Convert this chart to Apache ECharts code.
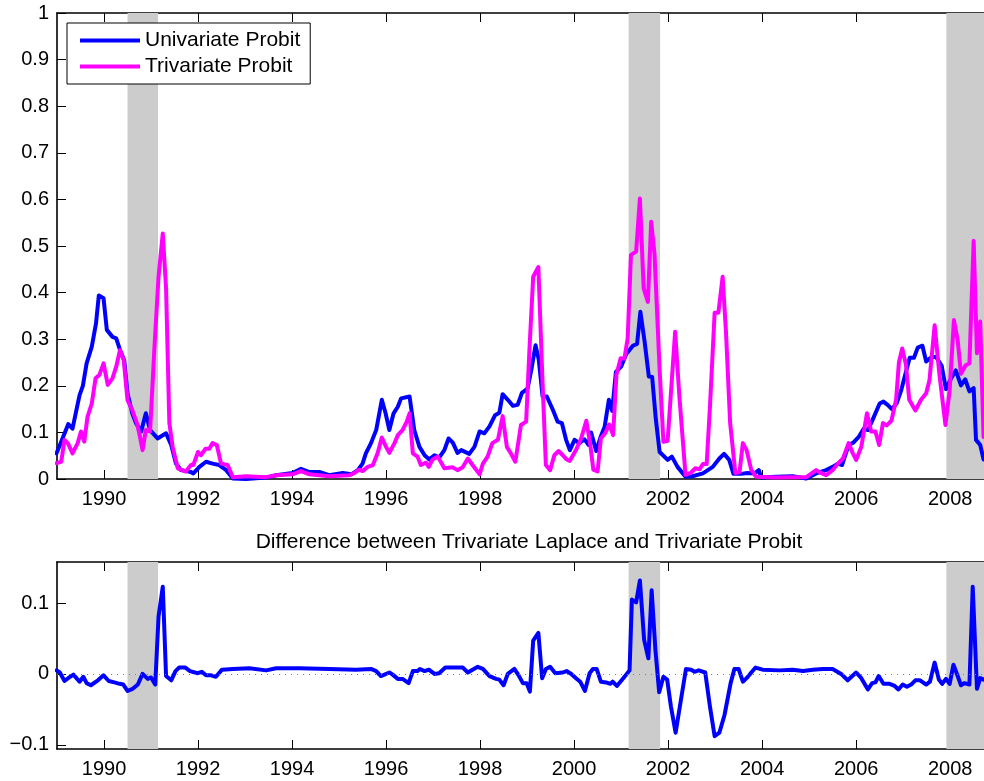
<!DOCTYPE html>
<html>
<head>
<meta charset="utf-8">
<script src="https://cdn.jsdelivr.net/npm/echarts@6/dist/echarts.min.js"></script>
<style>
  html, body { margin: 0; padding: 0; background: #ffffff; }
  #chart { width: 984px; height: 781px; }
</style>
</head>
<body>
<div id="chart"></div>
<script>
// Monthly recession probabilities, [decimal year, probability]
const univariateProbit = [
  [1988.99,0.055],[1989.19,0.105],[1989.24,0.118],[1989.33,0.108],[1989.48,0.18],[1989.55,0.20],
  [1989.63,0.248],[1989.74,0.284],[1989.83,0.334],[1989.89,0.394],[1989.99,0.388],[1990.06,0.32],
  [1990.18,0.305],[1990.26,0.302],[1990.34,0.277],[1990.43,0.255],[1990.50,0.184],[1990.60,0.141],
  [1990.68,0.12],[1990.79,0.102],[1990.89,0.141],[1990.98,0.105],[1991.14,0.087],[1991.32,0.098],
  [1991.43,0.073],[1991.53,0.033],[1991.64,0.019],[1991.85,0.015],[1991.90,0.012],[1992.03,0.026],
  [1992.17,0.037],[1992.31,0.033],[1992.45,0.03],[1992.60,0.019],[1992.74,0.001],[1993.02,0.0],
  [1993.45,0.003],[1993.66,0.008],[1994.01,0.013],[1994.19,0.022],[1994.37,0.015],[1994.58,0.015],
  [1994.79,0.008],[1995.08,0.013],[1995.26,0.01],[1995.40,0.019],[1995.50,0.033],[1995.57,0.055],
  [1995.68,0.077],[1995.79,0.105],[1995.91,0.17],[1995.99,0.141],[1996.07,0.105],[1996.16,0.141],
  [1996.25,0.155],[1996.32,0.173],[1996.50,0.177],[1996.60,0.105],[1996.71,0.069],[1996.82,0.051],
  [1996.92,0.042],[1997.03,0.051],[1997.13,0.046],[1997.24,0.062],[1997.33,0.087],[1997.42,0.078],
  [1997.52,0.056],[1997.60,0.062],[1997.77,0.054],[1997.88,0.069],[1997.99,0.102],[1998.09,0.098],
  [1998.20,0.113],[1998.32,0.137],[1998.41,0.142],[1998.48,0.182],[1998.59,0.17],[1998.70,0.157],
  [1998.80,0.159],[1998.89,0.185],[1999.01,0.194],[1999.09,0.234],[1999.18,0.287],[1999.25,0.255],
  [1999.33,0.177],[1999.42,0.177],[1999.55,0.148],[1999.65,0.123],[1999.74,0.12],[1999.83,0.084],
  [1999.91,0.062],[2000.01,0.084],[2000.11,0.077],[2000.22,0.085],[2000.31,0.073],[2000.36,0.1],
  [2000.47,0.06],[2000.57,0.092],[2000.65,0.112],[2000.74,0.17],[2000.81,0.146],[2000.89,0.23],
  [2001.00,0.241],[2001.11,0.268],[2001.25,0.286],[2001.34,0.29],[2001.41,0.359],[2001.50,0.295],
  [2001.59,0.22],[2001.66,0.219],[2001.74,0.127],[2001.82,0.058],[2001.99,0.041],[2002.08,0.048],
  [2002.20,0.026],[2002.37,0.005],[2002.52,0.006],[2002.74,0.012],[2002.95,0.026],[2003.09,0.044],
  [2003.19,0.054],[2003.30,0.041],[2003.39,0.011],[2003.55,0.011],[2003.69,0.013],[2003.84,0.012],
  [2003.93,0.019],[2003.98,0.003],[2004.30,0.005],[2004.65,0.006],[2004.94,0.001],[2005.15,0.012],
  [2005.36,0.019],[2005.50,0.026],[2005.61,0.033],[2005.70,0.03],[2005.84,0.073],[2005.94,0.078],
  [2006.06,0.091],[2006.16,0.108],[2006.25,0.105],[2006.35,0.127],[2006.50,0.162],[2006.58,0.166],
  [2006.67,0.159],[2006.76,0.15],[2006.86,0.162],[2006.96,0.191],[2007.06,0.23],[2007.14,0.26],
  [2007.23,0.26],[2007.31,0.282],[2007.41,0.286],[2007.49,0.252],[2007.61,0.262],[2007.70,0.262],
  [2007.82,0.243],[2007.91,0.193],[2008.01,0.214],[2008.12,0.233],[2008.23,0.201],[2008.32,0.214],
  [2008.41,0.188],[2008.50,0.195],[2008.55,0.084],[2008.64,0.073],[2008.71,0.042]
];

const trivariateProbit = [
  [1988.99,0.034],[1989.09,0.037],[1989.16,0.084],[1989.23,0.077],[1989.33,0.055],[1989.44,0.077],
  [1989.51,0.102],[1989.58,0.08],[1989.65,0.134],[1989.74,0.162],[1989.82,0.216],[1989.90,0.223],
  [1989.99,0.248],[1990.08,0.202],[1990.18,0.216],[1990.26,0.241],[1990.34,0.277],[1990.42,0.255],
  [1990.50,0.169],[1990.60,0.148],[1990.70,0.12],[1990.75,0.098],[1990.82,0.062],[1990.89,0.105],
  [1990.98,0.102],[1991.07,0.277],[1991.16,0.434],[1991.25,0.527],[1991.32,0.41],[1991.39,0.12],
  [1991.46,0.069],[1991.57,0.023],[1991.74,0.016],[1991.85,0.03],[1991.90,0.03],[1992.00,0.058],
  [1992.06,0.051],[1992.16,0.065],[1992.24,0.065],[1992.31,0.077],[1992.40,0.073],[1992.49,0.033],
  [1992.63,0.03],[1992.74,0.004],[1993.02,0.006],[1993.45,0.004],[1993.66,0.008],[1994.01,0.01],
  [1994.19,0.017],[1994.37,0.01],[1994.79,0.006],[1995.22,0.008],[1995.33,0.013],[1995.43,0.02],
  [1995.50,0.017],[1995.61,0.026],[1995.72,0.03],[1995.82,0.055],[1995.91,0.089],[1996.00,0.069],
  [1996.07,0.056],[1996.18,0.077],[1996.25,0.094],[1996.35,0.105],[1996.44,0.123],[1996.50,0.141],
  [1996.57,0.055],[1996.67,0.048],[1996.74,0.03],[1996.85,0.035],[1996.91,0.026],[1996.99,0.042],
  [1997.10,0.048],[1997.24,0.023],[1997.42,0.025],[1997.52,0.019],[1997.63,0.025],[1997.74,0.044],
  [1997.84,0.03],[1997.99,0.01],[1998.06,0.033],[1998.16,0.048],[1998.26,0.077],[1998.38,0.084],
  [1998.48,0.135],[1998.57,0.069],[1998.66,0.054],[1998.75,0.037],[1998.87,0.116],[1998.98,0.123],
  [1999.05,0.277],[1999.13,0.434],[1999.24,0.455],[1999.33,0.205],[1999.40,0.03],[1999.49,0.019],
  [1999.58,0.051],[1999.67,0.06],[1999.76,0.051],[1999.84,0.042],[1999.91,0.039],[2000.04,0.062],
  [2000.15,0.087],[2000.26,0.125],[2000.34,0.077],[2000.41,0.02],[2000.50,0.016],[2000.57,0.087],
  [2000.66,0.098],[2000.75,0.117],[2000.83,0.094],[2000.90,0.223],[2000.99,0.259],[2001.07,0.258],
  [2001.14,0.302],[2001.21,0.481],[2001.32,0.488],[2001.40,0.602],[2001.48,0.409],[2001.57,0.38],
  [2001.64,0.552],[2001.71,0.484],[2001.82,0.234],[2001.90,0.08],[2001.99,0.082],[2002.15,0.316],
  [2002.24,0.177],[2002.37,0.009],[2002.49,0.014],[2002.58,0.023],[2002.67,0.021],[2002.74,0.032],
  [2002.82,0.032],[2002.89,0.155],[2002.99,0.357],[2003.07,0.357],[2003.16,0.434],[2003.23,0.318],
  [2003.32,0.12],[2003.43,0.013],[2003.52,0.015],[2003.59,0.077],[2003.67,0.062],[2003.77,0.019],
  [2003.87,0.005],[2004.30,0.003],[2004.65,0.004],[2004.94,0.004],[2005.15,0.019],[2005.25,0.013],
  [2005.36,0.008],[2005.50,0.019],[2005.61,0.033],[2005.72,0.044],[2005.84,0.077],[2005.93,0.055],
  [2006.00,0.041],[2006.11,0.069],[2006.23,0.141],[2006.32,0.102],[2006.41,0.102],[2006.49,0.073],
  [2006.57,0.12],[2006.65,0.115],[2006.75,0.125],[2006.85,0.17],[2006.91,0.25],[2006.98,0.28],
  [2007.06,0.245],[2007.13,0.17],[2007.26,0.147],[2007.38,0.17],[2007.49,0.184],[2007.56,0.212],
  [2007.67,0.33],[2007.77,0.226],[2007.90,0.116],[2007.99,0.191],[2008.08,0.341],[2008.16,0.298],
  [2008.23,0.226],[2008.33,0.244],[2008.41,0.248],[2008.50,0.511],[2008.57,0.27],[2008.64,0.338],
  [2008.71,0.09]
];

// Trivariate Laplace minus Trivariate Probit
const laplaceMinusProbit = [
  [1988.99,0.005],[1989.06,0.002],[1989.16,-0.010],[1989.26,-0.005],[1989.35,-0.001],[1989.48,-0.011],
  [1989.56,-0.004],[1989.63,-0.013],[1989.72,-0.016],[1989.87,-0.009],[1989.99,-0.002],[1990.10,-0.010],
  [1990.22,-0.012],[1990.33,-0.014],[1990.41,-0.015],[1990.50,-0.024],[1990.61,-0.021],[1990.72,-0.015],
  [1990.82,0.0],[1990.93,-0.007],[1991.00,-0.005],[1991.09,-0.015],[1991.16,0.081],[1991.25,0.123],
  [1991.32,-0.003],[1991.43,-0.009],[1991.52,0.004],[1991.60,0.009],[1991.73,0.009],[1991.83,0.004],
  [1991.99,0.001],[1992.08,0.003],[1992.17,-0.002],[1992.28,-0.002],[1992.38,-0.004],[1992.51,0.006],
  [1992.74,0.007],[1993.09,0.008],[1993.45,0.005],[1993.66,0.008],[1994.16,0.008],[1994.79,0.007],
  [1995.36,0.006],[1995.68,0.007],[1995.79,0.004],[1995.89,-0.003],[1996.07,0.002],[1996.14,-0.001],
  [1996.25,-0.007],[1996.35,-0.007],[1996.48,-0.013],[1996.57,0.004],[1996.67,0.004],[1996.72,0.007],
  [1996.82,0.004],[1996.91,0.006],[1997.03,0.0],[1997.13,0.001],[1997.26,0.009],[1997.63,0.009],
  [1997.74,0.002],[1997.84,0.006],[1997.95,0.01],[1998.06,0.007],[1998.20,-0.003],[1998.34,-0.007],
  [1998.41,-0.008],[1998.50,-0.016],[1998.59,0.0],[1998.73,0.007],[1998.82,-0.002],[1998.91,-0.013],
  [1998.99,-0.013],[1999.06,-0.025],[1999.13,0.047],[1999.24,0.058],[1999.32,-0.006],[1999.40,0.007],
  [1999.49,0.01],[1999.60,0.001],[1999.76,0.002],[1999.84,0.004],[1999.94,0.0],[2000.04,-0.006],
  [2000.13,-0.011],[2000.23,-0.024],[2000.33,0.001],[2000.40,0.007],[2000.48,0.007],[2000.57,-0.011],
  [2000.68,-0.012],[2000.77,-0.014],[2000.82,-0.011],[2000.91,-0.017],[2001.06,-0.005],[2001.18,0.005],
  [2001.23,0.105],[2001.32,0.101],[2001.40,0.132],[2001.49,0.048],[2001.58,0.022],[2001.65,0.118],
  [2001.73,0.034],[2001.81,-0.026],[2001.90,-0.004],[2001.98,-0.008],[2002.06,-0.046],[2002.16,-0.083],
  [2002.25,-0.046],[2002.38,0.007],[2002.49,0.006],[2002.56,0.003],[2002.65,0.005],[2002.79,0.002],
  [2002.89,-0.046],[2002.99,-0.088],[2003.09,-0.083],[2003.20,-0.058],[2003.33,-0.013],[2003.41,0.007],
  [2003.50,0.007],[2003.59,-0.011],[2003.67,-0.006],[2003.77,0.002],[2003.86,0.009],[2004.01,0.006],
  [2004.37,0.005],[2004.65,0.006],[2004.87,0.004],[2005.08,0.006],[2005.29,0.007],[2005.50,0.007],
  [2005.68,0.0],[2005.82,-0.009],[2006.00,0.002],[2006.11,-0.006],[2006.25,-0.022],[2006.34,-0.013],
  [2006.41,-0.012],[2006.48,-0.003],[2006.58,-0.014],[2006.71,-0.014],[2006.82,-0.017],[2006.90,-0.022],
  [2006.99,-0.015],[2007.08,-0.018],[2007.17,-0.015],[2007.26,-0.009],[2007.36,-0.009],[2007.49,-0.015],
  [2007.57,-0.011],[2007.67,0.016],[2007.76,-0.008],[2007.83,-0.014],[2007.91,-0.007],[2007.99,-0.014],
  [2008.07,0.013],[2008.16,-0.003],[2008.23,-0.016],[2008.30,-0.013],[2008.41,-0.015],[2008.48,0.123],
  [2008.57,-0.021],[2008.64,-0.006],[2008.71,-0.008]
];

// NBER recession periods (start, end) in decimal years
const recessions = [[1990.50, 1991.15], [2001.16, 2001.83], [2007.92, 2008.75]];

const yearTicks = [1990, 1992, 1994, 1996, 1998, 2000, 2002, 2004, 2006, 2008];
const probTicks = [0, 0.1, 0.2, 0.3, 0.4, 0.5, 0.6, 0.7, 0.8, 0.9, 1];
const diffTicks = [-0.1, 0, 0.1];

const seriesNames = ['Univariate Probit', 'Trivariate Probit'];
const panelTitle = 'Difference between Trivariate Laplace and Trivariate Probit';

const FONT = '"Liberation Sans", Arial, Helvetica, sans-serif';
const X_MIN = 1989, X_MAX = 2008.72;
const TICK_FS = 20;

function fmtNum(v) {
  const r = Math.round(v * 1000) / 1000;
  return r < 0 ? '\u2212' + String(-r) : String(r);
}

function xAxisFor(gridIndex, position) {
  const bottom = position === 'bottom';
  return {
    type: 'value', gridIndex, position, min: X_MIN, max: X_MAX,
    axisLine: { show: true, onZero: false, lineStyle: { color: '#000', width: 1.6 } },
    axisTick: { show: true, inside: true, length: 9, customValues: yearTicks,
                lineStyle: { color: '#000', width: 1 } },
    axisLabel: { show: bottom, customValues: yearTicks, margin: 10, color: '#000',
                 fontSize: TICK_FS, fontFamily: FONT, formatter: v => String(v) },
    splitLine: { show: false }
  };
}

function yAxisFor(gridIndex, min, max, ticks) {
  return {
    type: 'value', gridIndex, min, max, position: 'left',
    axisLine: { show: true, onZero: false, lineStyle: { color: '#000', width: 1.6 } },
    axisTick: { show: true, inside: true, length: 9, customValues: ticks,
                lineStyle: { color: '#000', width: 1 } },
    axisLabel: { show: true, customValues: ticks, margin: 8, color: '#000',
                 fontSize: TICK_FS, fontFamily: FONT, formatter: fmtNum },
    splitLine: { show: false }
  };
}

function bandSeries(xIdx, yIdx, data, extra) {
  return Object.assign({
    type: 'line', xAxisIndex: xIdx, yAxisIndex: yIdx, data,
    silent: true, z: 1, symbol: 'none',
    lineStyle: { opacity: 0, width: 0 },
    markArea: {
      silent: true,
      itemStyle: { color: '#cccccc' },
      data: recessions.map(r => [{ xAxis: r[0] }, { xAxis: r[1] }])
    }
  }, extra || {});
}

const lineBase = { type: 'line', symbol: 'none', showSymbol: false, z: 3,
                   animation: false };

const chart = echarts.init(document.getElementById('chart'), null, { renderer: 'canvas' });

chart.setOption({
  animation: false,
  backgroundColor: '#ffffff',
  textStyle: { fontFamily: FONT },
  title: {
    text: panelTitle, left: 524, top: 527, textAlign: 'center',
    textStyle: { fontSize: 21, fontWeight: 'normal', color: '#000', fontFamily: FONT }
  },
  legend: {
    data: seriesNames, orient: 'vertical', left: 67, top: 23,
    padding: [7, 10, 7, 13], itemGap: 5, itemWidth: 60, itemHeight: 4,
    icon: 'rect', borderColor: '#000', borderWidth: 1, backgroundColor: '#fff',
    textStyle: { fontSize: 21, color: '#000', fontFamily: FONT, lineHeight: 20 },
    selectedMode: false, z: 10
  },
  grid: [
    { left: 57, top: 13, width: 927, height: 466 },
    { left: 57, top: 562, width: 927, height: 187 }
  ],
  xAxis: [
    xAxisFor(0, 'bottom'), xAxisFor(0, 'top'),
    xAxisFor(1, 'bottom'), xAxisFor(1, 'top')
  ],
  yAxis: [
    yAxisFor(0, 0, 1, probTicks),
    yAxisFor(1, -0.106, 0.158, diffTicks)
  ],
  series: [
    bandSeries(0, 0, univariateProbit, { name: 'bands-top' }),
    Object.assign({}, lineBase, {
      name: seriesNames[0], xAxisIndex: 0, yAxisIndex: 0, data: univariateProbit,
      itemStyle: { color: '#0000ff' },
      lineStyle: { color: '#0000ff', width: 4, join: 'round', cap: 'round' }
    }),
    Object.assign({}, lineBase, {
      name: seriesNames[1], xAxisIndex: 0, yAxisIndex: 0, data: trivariateProbit,
      itemStyle: { color: '#ff00ff' },
      lineStyle: { color: '#ff00ff', width: 4, join: 'round', cap: 'round' }
    }),
    bandSeries(2, 1, laplaceMinusProbit, {
      name: 'bands-bottom',
      markLine: {
        silent: true, symbol: 'none', label: { show: false },
        lineStyle: { color: '#7f7f7f', type: [1, 5], width: 1 },
        data: [{ yAxis: 0 }]
      }
    }),
    Object.assign({}, lineBase, {
      name: 'Laplace minus Probit', xAxisIndex: 2, yAxisIndex: 1, data: laplaceMinusProbit,
      itemStyle: { color: '#0000ff' },
      lineStyle: { color: '#0000ff', width: 4, join: 'round', cap: 'round' }
    })
  ]
});
</script>
</body>
</html>
